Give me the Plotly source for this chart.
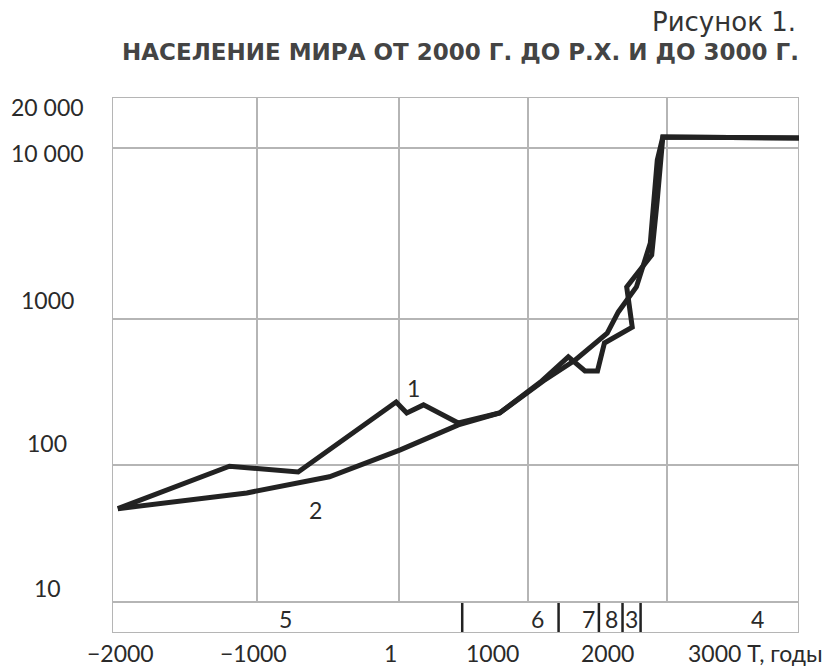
import numpy as np
import plotly.graph_objects as go

# ---------------- data ----------------
# Curve 1: empirical world population (millions)
years_1 = [-1960, -1190, -710, -20, 60, 190, 460, 780, 1090, 1290, 1410, 1500, 1550, 1750, 1710, 1890, 1930, 1970, 3000]
pop_1 = [48, 98, 89, 270, 227, 258, 194, 227, 370, 550, 441, 441, 685, 880, 1540, 2370, 4970, 11600, 11460]

# Curve 2: model curve (millions)
years_2 = [-1960, -1070, -490, 10, 460, 780, 1110, 1340, 1570, 1650, 1780, 1880, 1930, 1970, 3000]
pop_2 = [48, 62.5, 82, 127, 188, 227, 376, 524, 800, 1100, 1540, 2780, 8500, 11600, 11460]

# axis grid (the original chart uses an uneven scale between grid lines)
grid_years = [-2000, -1000, 0, 1000, 2000, 3000]
grid_pops = [10, 100, 1000, 10000, 20000]

x_tick_labels = ["−2000", "−1000", "1", "1000", "2000", "3000 Т, годы"]
y_tick_labels = ["10", "100", "1000", "10 000", "20 000"]

# periods band at the bottom
period_bounds = [490, 1220, 1510, 1680, 1810]
period_labels = ["5", "6", "7", "8", "3", "4"]

title_line1 = "Рисунок 1."
title_line2 = "НАСЕЛЕНИЕ МИРА ОТ 2000 Г. ДО Р.Х. И ДО 3000 Г."

# ---------------- scales ----------------
GRID_X_POS = [0, 145, 287, 416, 555, 687]
GRID_Y_POS = [0, 137, 283, 454, 505]
BAND_BOTTOM = -31


def sx(year):
    return np.interp(np.asarray(year, dtype=float), grid_years, GRID_X_POS)


def sy(pop):
    return np.interp(np.log10(np.asarray(pop, dtype=float)), np.log10(grid_pops), GRID_Y_POS)


# figure geometry (page body margin removed in post_script)
W, H = 824, 669
ML, MT, MR, MB = 112, 97, 25, 36
PW, PH = W - ML - MR, H - MT - MB


def px(xpage):
    return (xpage - ML) / PW


def py(ypage):
    return (H - MB - ypage) / PH


# layout positions (page pixels of the label texts)
x_label_pos = [120, 253, 390, 492, 607, 755]
y_label_pos = [588, 443, 300, 153, 107]
period_label_pos = [285, 537, 588, 611, 631, 757]

FONT = "Lato, sans-serif"
TFONT = "DejaVu Sans, sans-serif"
GRID = "#b5b5b5"
INK = "#222222"
TXT = "#2a2a2a"

fig = go.Figure()
fig.add_trace(go.Scatter(x=sx(years_2), y=sy(pop_2), mode="lines",
                         line=dict(color=INK, width=5), hoverinfo="skip", showlegend=False))
fig.add_trace(go.Scatter(x=sx(years_1), y=sy(pop_1), mode="lines",
                         line=dict(color=INK, width=5), hoverinfo="skip", showlegend=False))

shapes = []
for yr in grid_years[1:-1]:
    shapes.append(dict(type="line", xref="x", yref="y", x0=float(sx(yr)), x1=float(sx(yr)),
                       y0=0, y1=GRID_Y_POS[-1], line=dict(color=GRID, width=2), layer="below"))
for p in grid_pops[:-1]:
    shapes.append(dict(type="line", xref="x", yref="y", x0=0, x1=GRID_X_POS[-1],
                       y0=float(sy(p)), y1=float(sy(p)), line=dict(color=GRID, width=2), layer="below"))
shapes.append(dict(type="rect", xref="x", yref="y", x0=0, x1=GRID_X_POS[-1], y0=BAND_BOTTOM,
                   y1=GRID_Y_POS[-1], line=dict(color=GRID, width=2), layer="below"))
for b in period_bounds:
    shapes.append(dict(type="line", xref="x", yref="y", x0=float(sx(b)), x1=float(sx(b)),
                       y0=BAND_BOTTOM + 1, y1=-1, line=dict(color=INK, width=2.5)))

annotations = []


def label(txt, xp, yp, size=23, family=FONT, color=TXT, xanchor="center", yanchor="middle"):
    annotations.append(dict(text=txt, x=px(xp), y=py(yp), xref="paper", yref="paper",
                            showarrow=False, xanchor=xanchor, yanchor=yanchor,
                            font=dict(family=family, size=size, color=color)))


for txt, xp in zip(x_tick_labels, x_label_pos):
    label(txt, xp, 669, yanchor="bottom")
for txt, yp in zip(y_tick_labels, y_label_pos):
    label(txt, 47, yp)
for txt, xp in zip(period_labels, period_label_pos):
    label(txt, xp, 619)
label("1", 413, 388)
label("2", 315, 510)
label(title_line1, 798, 22, size=26, family=TFONT, color="#333333", xanchor="right")
label("<b>" + title_line2 + "</b>", 801, 52, size=23, family=TFONT, color="#444444", xanchor="right")

fig.update_layout(
    width=W, height=H,
    margin=dict(l=ML, r=MR, t=MT, b=MB),
    paper_bgcolor="white", plot_bgcolor="white",
    xaxis=dict(range=[0, GRID_X_POS[-1]], showgrid=False, zeroline=False, showticklabels=False,
               ticks="", showline=False, fixedrange=True),
    yaxis=dict(range=[BAND_BOTTOM, GRID_Y_POS[-1]], showgrid=False, zeroline=False,
               showticklabels=False, ticks="", showline=False, fixedrange=True),
    shapes=shapes, annotations=annotations,
)

fig.write_html("out.html", config={"displayModeBar": False},
               post_script="document.body.style.margin='0';")
